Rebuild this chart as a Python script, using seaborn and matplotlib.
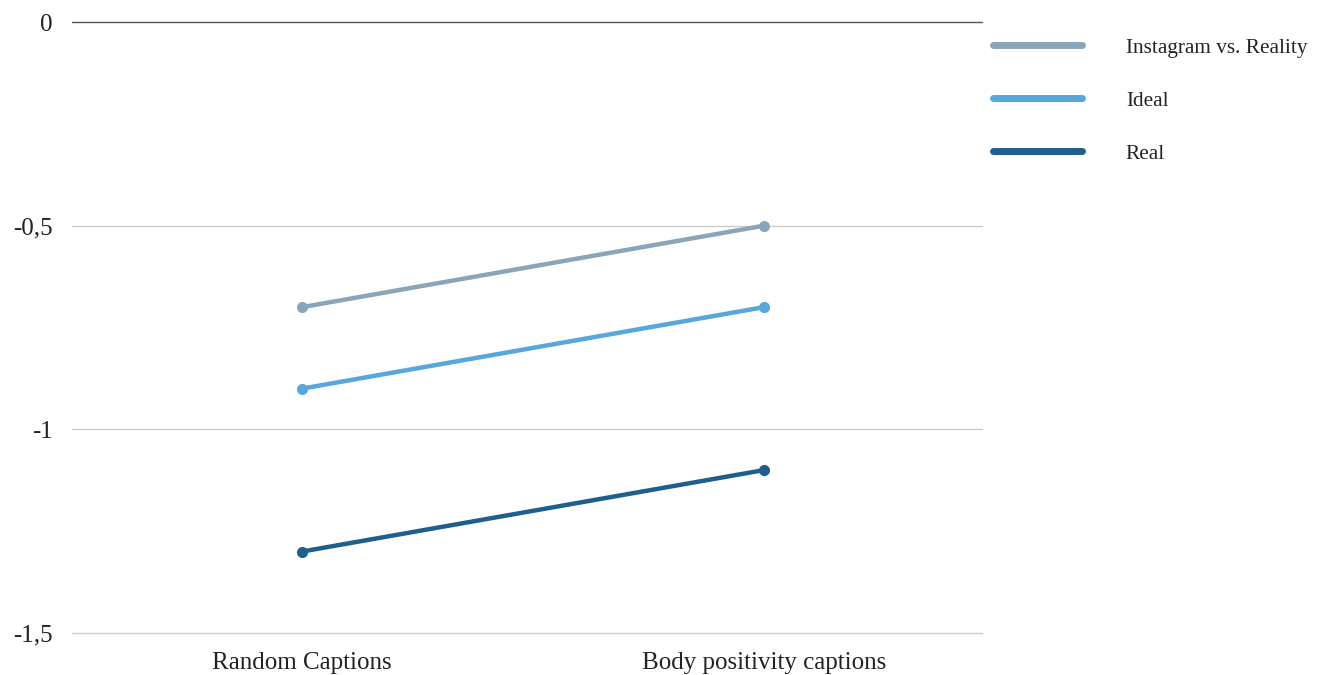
import matplotlib
matplotlib.use("Agg")
import matplotlib.pyplot as plt
from matplotlib.lines import Line2D
import seaborn as sns
import pandas as pd

categories = ["Random Captions", "Body positivity captions"]
series_names = ["Instagram vs. Reality", "Ideal", "Real"]
instagram_vs_reality = [-0.7, -0.5]
ideal = [-0.9, -0.7]
real = [-1.3, -1.1]
y_ticks = [0, -0.5, -1, -1.5]
y_tick_labels = ["0", "-0,5", "-1", "-1,5"]

colors = ["#8aa5b9", "#57a6dc", "#1f5f8b"]

rows = []
for name, vals in zip(series_names, [instagram_vs_reality, ideal, real]):
    for cat, v in zip(categories, vals):
        rows.append({"caption": cat, "value": v, "series": name})
df = pd.DataFrame(rows)

sns.set_theme(style="white")
plt.rcParams["font.family"] = ["Liberation Serif", "DejaVu Serif"]

fig = plt.figure(figsize=(13.24, 6.75), dpi=100)
ax = fig.add_axes([0.0544, 0.0622, 0.6873, 0.9052])

sns.lineplot(data=df, x="caption", y="value", hue="series",
             hue_order=series_names, palette=colors, sort=False,
             linewidth=3.2, marker="o", markersize=8, markeredgewidth=0,
             legend=False, ax=ax, solid_capstyle="round")

ax.set_ylim(-1.5, 0)
ax.set_xlim(-0.498, 1.472)
ax.set_yticks(y_ticks)
ax.set_yticklabels(y_tick_labels)
for y in y_ticks:
    ax.axhline(y, color="#555555" if y == 0 else "#cccccc", linewidth=1,
               zorder=0, clip_on=False)

for s in ax.spines.values():
    s.set_visible(False)
ax.set_xlabel("")
ax.set_ylabel("")
ax.tick_params(axis="both", length=0, labelsize=18, colors="#222222")
ax.tick_params(axis="y", pad=14)
ax.tick_params(axis="x", pad=14)
ax.grid(False)

handles = [Line2D([0], [0], color=c, linewidth=5, solid_capstyle="round")
           for c in colors]
fig.legend(handles, series_names, loc="upper left",
           bbox_to_anchor=(0.7356, 0.972), frameon=False, fontsize=15.3,
           handlelength=4.2, handletextpad=2.05, labelspacing=1.55,
           labelcolor="#222222")

fig.savefig("out.png", dpi=100)
